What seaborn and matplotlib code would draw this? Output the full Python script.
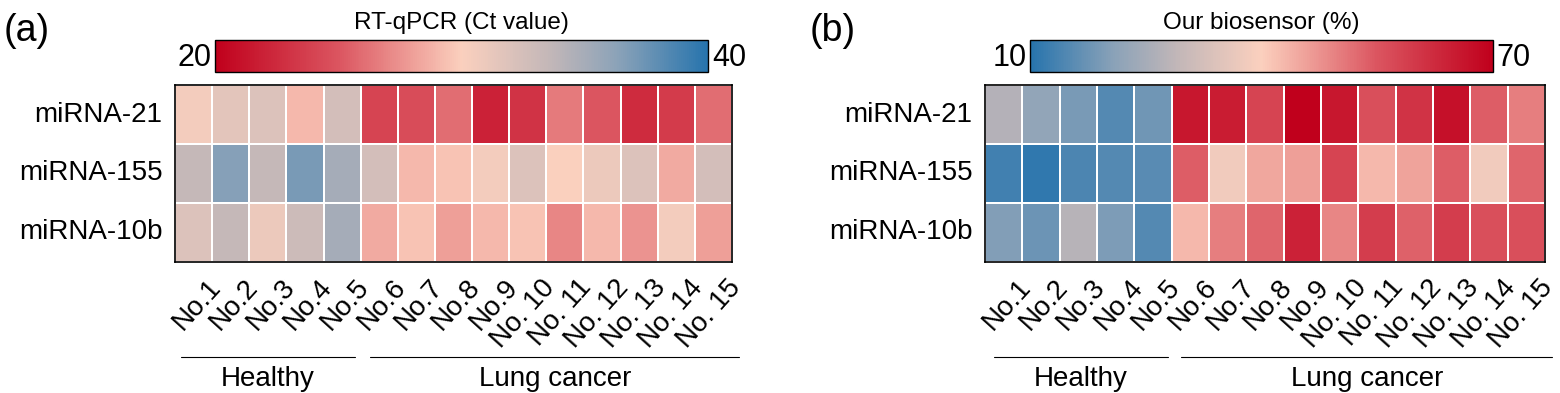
import numpy as np
import pandas as pd
import matplotlib
matplotlib.use('Agg')
import matplotlib.pyplot as plt
import matplotlib.transforms as mtransforms
from matplotlib.colors import LinearSegmentedColormap
import seaborn as sns

sns.set_theme(style='white')
plt.rcParams['font.family'] = ['Liberation Sans', 'DejaVu Sans']
plt.rcParams.update({'text.color': 'black', 'xtick.color': 'black', 'ytick.color': 'black'})

# ── data ─────────────────────────────────────────────────────────
genes = ['miRNA-21', 'miRNA-155', 'miRNA-10b']
samples = ['No.1', 'No.2', 'No.3', 'No.4', 'No.5', 'No.6', 'No.7', 'No.8', 'No.9',
           'No. 10', 'No. 11', 'No. 12', 'No. 13', 'No. 14', 'No. 15']
groups = ['Healthy', 'Lung cancer']

ct_mir21  = [30.5, 31.5, 32, 29, 32.5, 24, 24.5, 26, 22, 23, 26.5, 25, 22.5, 23.5, 26]
ct_mir155 = [33.5, 36.5, 33.5, 37, 35, 32.5, 29, 29.5, 30.5, 32, 30, 31, 32, 28.5, 32.5]
ct_mir10b = [32, 33.5, 31, 33, 35, 28.5, 29.5, 28, 29, 29.5, 27, 29, 27.5, 30.5, 28]

bs_mir21  = [27, 22, 19, 15, 18, 66, 65, 58, 70, 66, 56, 61, 67, 54, 50]
bs_mir155 = [13, 11, 14, 15, 15.5, 54, 38, 45, 46, 58, 43, 45.5, 54, 38, 53]
bs_mir10b = [20, 17.5, 27.5, 19.5, 15, 43, 50, 53, 64, 49, 59, 53.5, 59, 56, 56]

ct_range = (20, 40)
bs_range = (10, 70)

# red -> peach -> grey -> blue
CMAP = LinearSegmentedColormap.from_list('rdpb', [
    (0.0, '#c0001c'), (0.25, '#db5560'), (0.5, '#fbd0be'),
    (0.68, '#c3b7b8'), (0.82, '#8aa2b8'), (1.0, '#2774ad')])

df_ct = pd.DataFrame([ct_mir21, ct_mir155, ct_mir10b], index=genes, columns=samples)
df_bs = pd.DataFrame([bs_mir21, bs_mir155, bs_mir10b], index=genes, columns=samples)

fig = plt.figure(figsize=(15.6, 3.93), dpi=100)
W, H = 1560, 393

def px(l, t, r, b):
    return [l / W, 1 - b / H, (r - l) / W, (b - t) / H]

panels = [
    dict(df=df_ct, cmap=CMAP, rng=ct_range, title='RT-qPCR (Ct value)', tag='(a)',
         hm=px(175, 85, 732, 262), cb=px(215, 40, 708, 72), tagx=4,
         lines=[(0.15, 4.85), (5.25, 15.2)]),
    dict(df=df_bs, cmap=CMAP.reversed(), rng=bs_range, title='Our biosensor (%)', tag='(b)',
         hm=px(985, 85, 1545, 262), cb=px(1030, 40, 1493, 72), tagx=810,
         lines=[(0.25, 4.9), (5.25, 15.2)]),
]

for p in panels:
    ax = fig.add_axes(p['hm'])
    cax = fig.add_axes(p['cb'])
    lo, hi = p['rng']
    sns.heatmap(p['df'], ax=ax, cmap=p['cmap'], vmin=lo, vmax=hi,
                linewidths=1.4, linecolor='white', cbar_ax=cax,
                cbar_kws={'orientation': 'horizontal', 'ticks': []})
    for s in ax.spines.values():
        s.set_visible(True); s.set_color('black'); s.set_linewidth(1.2)
    ax.tick_params(axis='y', length=0, pad=9)
    ax.tick_params(axis='x', length=0, pad=9)
    ax.set_yticklabels(genes, rotation=0, fontsize=20)
    ax.set_xticklabels(samples, rotation=48, ha='right', rotation_mode='anchor', fontsize=20)
    shift = mtransforms.ScaledTranslation(13 / 100, 0, fig.dpi_scale_trans)
    for t in ax.get_xticklabels():
        t.set_transform(t.get_transform() + shift)
    ax.set_xlabel(''); ax.set_ylabel('')

    cb = ax.collections[0].colorbar
    cb.outline.set_visible(True); cb.outline.set_edgecolor('black'); cb.outline.set_linewidth(1)
    cax.text(-0.008, 0.45, str(lo), transform=cax.transAxes, ha='right', va='center', fontsize=22)
    cax.text(1.008, 0.45, str(hi), transform=cax.transAxes, ha='left', va='center', fontsize=22)
    cax.set_title(p['title'], fontsize=17.5, pad=8)

    fig.text(p['tagx'] / W, 1 - 31 / H, p['tag'], fontsize=27, va='center', ha='left')

    trans = mtransforms.blended_transform_factory(ax.transData, ax.transAxes)
    for (x0, x1), g in zip(p['lines'], groups):
        ax.plot([x0, x1], [-0.537, -0.537], color='black', lw=0.8, transform=trans, clip_on=False)
        ax.text((x0 + x1) / 2, -0.66, g, transform=trans, ha='center', va='center', fontsize=20)

fig.savefig('out.png', dpi=100, facecolor='white')
